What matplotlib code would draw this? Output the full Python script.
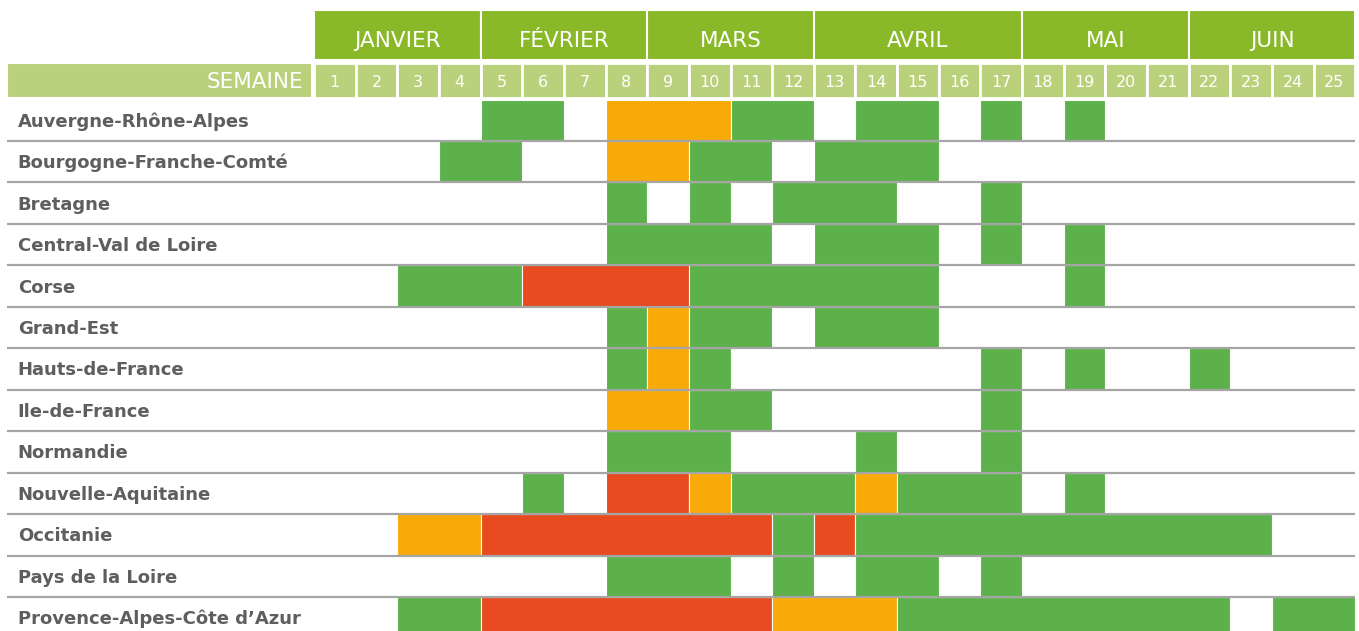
from itertools import groupby

import matplotlib.pyplot as plt
from matplotlib.patches import Rectangle

# Données : une chaîne de 25 caractères par région (une lettre par semaine)
# '.' = rien, 'v' = vert, 'o' = orange, 'r' = rouge
regions = [
    "Auvergne-Rhône-Alpes",
    "Bourgogne-Franche-Comté",
    "Bretagne",
    "Central-Val de Loire",
    "Corse",
    "Grand-Est",
    "Hauts-de-France",
    "Ile-de-France",
    "Normandie",
    "Nouvelle-Aquitaine",
    "Occitanie",
    "Pays de la Loire",
    "Provence-Alpes-Côte d’Azur",
]
statuts = [
    "....vv.ooovv.vv.v.v......",
    "...vv..oovv.vvv..........",
    ".......v.v.vvv..v........",
    ".......vvvv.vvv.v.v......",
    "..vvvrrrrvvvvvv...v......",
    ".......vovv.vvv..........",
    ".......vov......v.v..v...",
    ".......oovv.....v........",
    ".......vvv...v..v........",
    ".....v.rrovvvovvv.v......",
    "..oorrrrrrrvrvvvvvvvvvv..",
    ".......vvv.v.vv.v........",
    "..vvrrrrrrrooovvvvvvvv.vv",
]
semaines = list(range(1, 26))
mois = ["JANVIER", "FÉVRIER", "MARS", "AVRIL", "MAI", "JUIN"]
mois_nb_semaines = [4, 4, 4, 5, 4, 4]

couleurs = {"v": "#5CB14A", "o": "#F7AA08", "r": "#E84B1F"}
vert_fonce = "#89B828"
vert_clair = "#BAD17B"
gris_texte = "#5E5E5E"

fig = plt.figure(figsize=(13.59, 6.31), dpi=100)
ax = fig.add_axes([0, 0, 1, 1])
ax.set_xlim(-7.539, 25.09)
ax.set_ylim(12.82, -2.40)
ax.axis("off")

# Bandeau des mois
debut = 0
for nom, n in zip(mois, mois_nb_semaines):
    ax.add_patch(Rectangle((debut, -2.159), n, 1.206, facecolor=vert_fonce,
                           edgecolor="white", linewidth=1.5))
    ax.text(debut + n / 2, -1.274, nom, ha="center", va="baseline",
            color="white", fontsize=15.5)
    debut += n

# Ligne des semaines
ax.add_patch(Rectangle((-7.37, -0.881), 7.32, 0.845, facecolor=vert_clair,
                       edgecolor="white", linewidth=1.5))
ax.text(-0.25, -0.28, "SEMAINE", ha="right", va="baseline", color="white",
        fontsize=15.5)
for s in semaines:
    ax.add_patch(Rectangle((s - 1, -0.881), 1, 0.845, facecolor=vert_clair,
                           edgecolor="white", linewidth=2))
    ax.text(s - 0.5, -0.294, str(s), ha="center", va="baseline", color="white",
            fontsize=11.5)

# Cellules de la grille (les semaines consécutives de même statut sont fusionnées)
for i, (nom, ligne) in enumerate(zip(regions, statuts)):
    ax.text(-7.11, i + 0.656, nom, ha="left", va="baseline", color=gris_texte,
            fontsize=13, fontweight="bold")
    pos = 0
    for c, groupe in groupby(ligne):
        n = len(list(groupe))
        if c in couleurs:
            ax.add_patch(Rectangle((semaines[pos] - 1, i), n, 1,
                                   facecolor=couleurs[c], edgecolor="white",
                                   linewidth=0.8))
        pos += n

# Séparateurs horizontaux
for i in range(1, len(regions)):
    ax.plot([-7.37, 25], [i, i], color="#A5A5A5", linewidth=1.6,
            solid_capstyle="butt")

fig.savefig("out.png", dpi=100)
